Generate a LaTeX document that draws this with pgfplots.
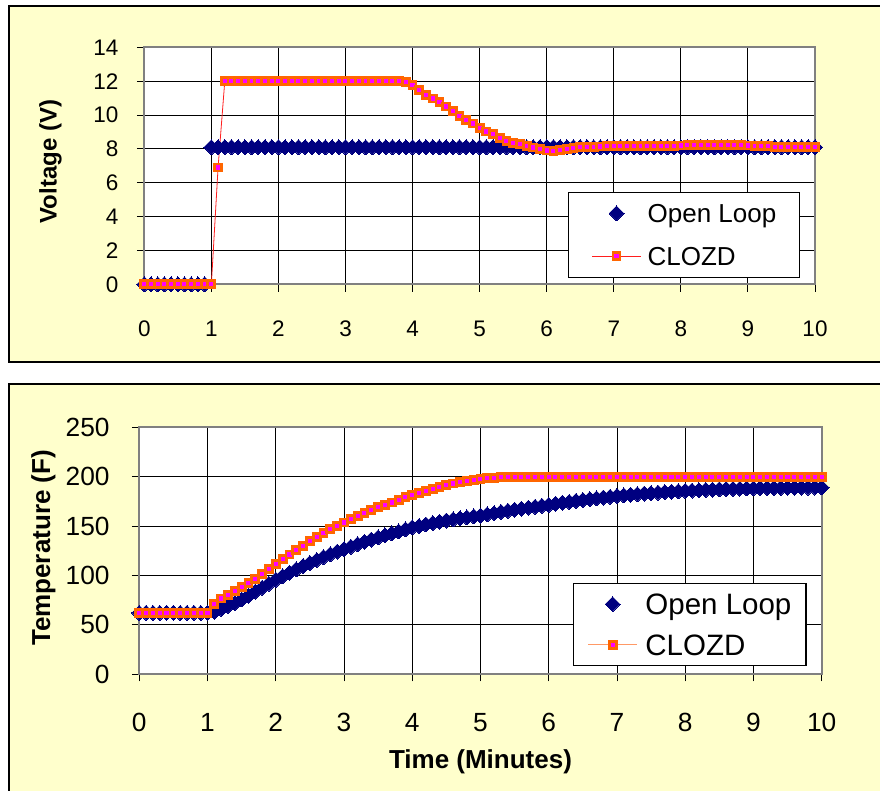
\documentclass[border=0pt]{standalone}
\usepackage{fontspec}
\setmainfont{Liberation Sans}
\usepackage{pgfplots}
\pgfplotsset{compat=1.18}
\definecolor{bgyellow}{RGB}{255,255,204}
\definecolor{navyc}{RGB}{0,0,128}
\definecolor{orangec}{RGB}{255,102,0}
\definecolor{magc}{RGB}{255,0,255}
\definecolor{redc}{RGB}{255,30,30}
\definecolor{lorange}{RGB}{255,153,102}
\definecolor{framegray}{RGB}{128,128,128}
\pgfplotsset{
 common/.style={
  scale only axis, clip=false,
  xmin=0,xmax=10, xtick={0,...,10},
  grid=major, grid style={black, line width=0.9bp},
  axis line style={framegray, line width=1.6bp},
  tick align=outside, major tick length=7.5bp, tick pos=left,
  tick style={black, line width=0.9bp},
  axis background/.style={fill=white},
  /pgf/number format/assume math mode=true,
  xticklabel style={anchor=center, inner sep=0pt},
  yticklabel style={anchor=east, inner sep=0pt},
  legend cell align=left,
 },
 olstyle/.style={only marks, mark=square*, mark size=5.3bp, mark options={rotate=45, fill=navyc, draw=navyc, line width=0pt}},
}
\begin{document}
\begin{tikzpicture}
\useasboundingbox (0bp,0bp) rectangle (880bp,791bp);
\clip (0bp,0bp) rectangle (880bp,791bp);
\draw[line width=1.8bp, fill=bgyellow] (9.3bp,429bp) rectangle (900bp,785.3bp);
\draw[line width=1.8bp, fill=bgyellow] (9.3bp,-20bp) rectangle (900bp,407bp);
% ---------- top ----------
\begin{axis}[common, at={(144.3bp,506.7bp)}, anchor=south west,
  width=670.7bp, height=237bp, ymin=0, ymax=14, ytick={0,2,...,14},
  ticklabel style={font=\fontsize{22.5bp}{27bp}\selectfont},
  xticklabel style={yshift=-36.7bp}, yticklabel style={xshift=-18.3bp},
  ylabel={Voltage (V)},
  ylabel style={font=\bfseries\fontsize{24bp}{28bp}\selectfont, at={(axis description cs:-0.14,0.517)}, anchor=center},
  legend image code/.code={\path (0bp,0bp) (49bp,0bp); \draw[mark repeat=2,mark phase=2,#1] plot coordinates {(0bp,0bp) (24.5bp,0bp) (49bp,0bp)};},
  legend style={at={(0.631,0.391)}, anchor=north west, draw=black, line width=1.2bp, fill=white,
    font=\fontsize{26bp}{30bp}\selectfont, inner xsep=23.3bp, inner ysep=11.65bp,
    row sep=23.7bp, column sep=6bp, nodes={inner sep=0pt, text height=19bp, text depth=0bp}},
]
\addplot[olstyle] table {
0 0
0.1 0
0.2 0
0.3 0
0.4 0
0.5 0
0.6 0
0.7 0
0.8 0
0.9 0
1.0 8.1
1.1 8.1
1.2 8.1
1.3 8.1
1.4 8.1
1.5 8.1
1.6 8.1
1.7 8.1
1.8 8.1
1.9 8.1
2.0 8.1
2.1 8.1
2.2 8.1
2.3 8.1
2.4 8.1
2.5 8.1
2.6 8.1
2.7 8.1
2.8 8.1
2.9 8.1
3.0 8.1
3.1 8.1
3.2 8.1
3.3 8.1
3.4 8.1
3.5 8.1
3.6 8.1
3.7 8.1
3.8 8.1
3.9 8.1
4.0 8.1
4.1 8.1
4.2 8.1
4.3 8.1
4.4 8.1
4.5 8.1
4.6 8.1
4.7 8.1
4.8 8.1
4.9 8.1
5.0 8.1
5.1 8.1
5.2 8.1
5.3 8.1
5.4 8.1
5.5 8.1
5.6 8.1
5.7 8.1
5.8 8.1
5.9 8.1
6.0 8.1
6.1 8.1
6.2 8.1
6.3 8.1
6.4 8.1
6.5 8.1
6.6 8.1
6.7 8.1
6.8 8.1
6.9 8.1
7.0 8.1
7.1 8.1
7.2 8.1
7.3 8.1
7.4 8.1
7.5 8.1
7.6 8.1
7.7 8.1
7.8 8.1
7.9 8.1
8.0 8.1
8.1 8.1
8.2 8.1
8.3 8.1
8.4 8.1
8.5 8.1
8.6 8.1
8.7 8.1
8.8 8.1
8.9 8.1
9.0 8.1
9.1 8.1
9.2 8.1
9.3 8.1
9.4 8.1
9.5 8.1
9.6 8.1
9.7 8.1
9.8 8.1
9.9 8.1
10.0 8.1
};
\addlegendentry{Open Loop}
\addplot[redc, line width=0.8bp, mark=square*, mark size=3.5bp, mark options={draw=orangec, fill=magc, line width=2.8bp, solid}] table {
0 0
0.1 0
0.2 0
0.3 0
0.4 0
0.5 0
0.6 0
0.7 0
0.8 0
0.9 0
1.0 0
1.1 6.9
1.2 12
1.3 12
1.4 12
1.5 12
1.6 12
1.7 12
1.8 12
1.9 12
2.0 12
2.1 12
2.2 12
2.3 12
2.4 12
2.5 12
2.6 12
2.7 12
2.8 12
2.9 12
3.0 12
3.1 12
3.2 12
3.3 12
3.4 12
3.5 12
3.6 12
3.7 12
3.8 12
3.9 11.93
4.0 11.75
4.1 11.5
4.2 11.2
4.3 10.97
4.4 10.75
4.5 10.5
4.6 10.22
4.7 9.93
4.8 9.71
4.9 9.5
5.0 9.23
5.1 9.02
5.2 8.86
5.3 8.64
5.4 8.48
5.5 8.36
5.6 8.28
5.7 8.18
5.8 8.08
5.9 7.97
6.0 7.9
6.1 7.88
6.2 7.92
6.3 7.98
6.4 8.05
6.5 8.09
6.6 8.12
6.7 8.13
6.8 8.14
6.9 8.15
7.0 8.16
7.1 8.17
7.2 8.17
7.3 8.17
7.4 8.17
7.5 8.17
7.6 8.17
7.7 8.17
7.8 8.17
7.9 8.18
8.0 8.2
8.1 8.22
8.2 8.22
8.3 8.22
8.4 8.22
8.5 8.22
8.6 8.22
8.7 8.22
8.8 8.22
8.9 8.21
9.0 8.2
9.1 8.19
9.2 8.17
9.3 8.15
9.4 8.13
9.5 8.12
9.6 8.1
9.7 8.1
9.8 8.1
9.9 8.1
10.0 8.1
};
\addlegendentry{CLOZD}
\end{axis}
% ---------- bottom ----------
\begin{axis}[common, at={(139.3bp,117bp)}, anchor=south west,
  width=682.4bp, height=246.7bp, ymin=0, ymax=250, ytick={0,50,...,250},
  ticklabel style={font=\fontsize{26.3bp}{31bp}\selectfont},
  xticklabel style={yshift=-41bp}, yticklabel style={xshift=-22bp},
  ylabel={Temperature (F)},
  ylabel style={font=\bfseries\fontsize{26bp}{30bp}\selectfont, at={(axis description cs:-0.1404,0.511)}, anchor=center},
  xlabel={Time (Minutes)},
  xlabel style={font=\bfseries\fontsize{26bp}{30bp}\selectfont, at={(axis description cs:0.5,-0.357)}, anchor=center},
  legend image code/.code={\path (0bp,0bp) (48.4bp,0bp); \draw[mark repeat=2,mark phase=2,#1] plot coordinates {(0bp,0bp) (24.2bp,0bp) (48.4bp,0bp)};},
  legend style={at={(0.635,0.370)}, anchor=north west, draw=black, line width=1.2bp, fill=white,
    font=\fontsize{29.5bp}{34bp}\selectfont, inner xsep=14.6bp, inner ysep=10.3bp,
    row sep=19.7bp, column sep=8bp, nodes={inner sep=0pt, text height=21bp, text depth=0bp}},
]
\addplot[olstyle] table {
0 62
0.1 62
0.2 62
0.3 62
0.4 62
0.5 62
0.6 62
0.7 62
0.8 62
0.9 62
1.0 62
1.1 63
1.2 66
1.3 69
1.4 72
1.5 75.5
1.6 79.5
1.7 83.5
1.8 87.5
1.9 91.5
2.0 95.5
2.1 99
2.2 102.5
2.3 106
2.4 109.5
2.5 112.5
2.6 115.5
2.7 118.5
2.8 121.3
2.9 124
3.0 126.5
3.1 129
3.2 131.5
3.3 134
3.4 136.2
3.5 138.4
3.6 140.5
3.7 142.5
3.8 144.5
3.9 146.5
4.0 148.5
4.1 150
4.2 151.5
4.3 152.9
4.4 154.2
4.5 155.5
4.6 156.7
4.7 157.7
4.8 158.7
4.9 159.7
5.0 160.6
5.1 161.8
5.2 163
5.3 164.2
5.4 165.4
5.5 166.5
5.6 167.5
5.7 168.5
5.8 169.5
5.9 170.5
6.0 171.5
6.1 172.5
6.2 173.5
6.3 174.5
6.4 175.5
6.5 176.4
6.6 177.2
6.7 178
6.8 178.8
6.9 179.6
7.0 180.4
7.1 181
7.2 181.6
7.3 182.2
7.4 182.8
7.5 183.3
7.6 183.8
7.7 184.3
7.8 184.7
7.9 185.1
8.0 185.5
8.1 185.9
8.2 186.2
8.3 186.6
8.4 186.9
8.5 187.2
8.6 187.4
8.7 187.6
8.8 187.8
8.9 188
9.0 188.2
9.1 188.3
9.2 188.4
9.3 188.5
9.4 188.6
9.5 188.7
9.6 188.8
9.7 188.8
9.8 188.9
9.9 188.9
10.0 189
};
\addlegendentry{Open Loop}
\addplot[lorange, line width=0.8bp, mark=square*, mark size=3.5bp, mark options={draw=orangec, fill=magc, line width=2.8bp, solid}] table {
0 62
0.1 62
0.2 62
0.3 62
0.4 62
0.5 62
0.6 62
0.7 62
0.8 62
0.9 62
1.0 62
1.1 71
1.2 76.5
1.3 80.3
1.4 84
1.5 87.9
1.6 92.3
1.7 96.6
1.8 101.3
1.9 106
2.0 111.5
2.1 116.5
2.2 121
2.3 125.8
2.4 130
2.5 134.4
2.6 138.8
2.7 142.9
2.8 146.8
2.9 150.2
3.0 153.6
3.1 157
3.2 160.1
3.3 163
3.4 166.3
3.5 168.9
3.6 171.3
3.7 173.7
3.8 176.4
3.9 179
4.0 181.1
4.1 183.6
4.2 185.8
4.3 187.8
4.4 189.7
4.5 191.3
4.6 193.1
4.7 194.6
4.8 195.6
4.9 196.6
5.0 197.4
5.1 198.3
5.2 198.9
5.3 199.4
5.4 199.7
5.5 200
5.6 200
5.7 200
5.8 200
5.9 200
6.0 200
6.1 200
6.2 200
6.3 200
6.4 200
6.5 200
6.6 200
6.7 200
6.8 200
6.9 200
7.0 200
7.1 200
7.2 200
7.3 200
7.4 200
7.5 200
7.6 200
7.7 200
7.8 200
7.9 200
8.0 200
8.1 200
8.2 200
8.3 200
8.4 200
8.5 200
8.6 200
8.7 200
8.8 200
8.9 200
9.0 200
9.1 200
9.2 200
9.3 200
9.4 200
9.5 200
9.6 200
9.7 200
9.8 200
9.9 200
10.0 200
};
\addlegendentry{CLOZD}
\end{axis}
\end{tikzpicture}
\end{document}
